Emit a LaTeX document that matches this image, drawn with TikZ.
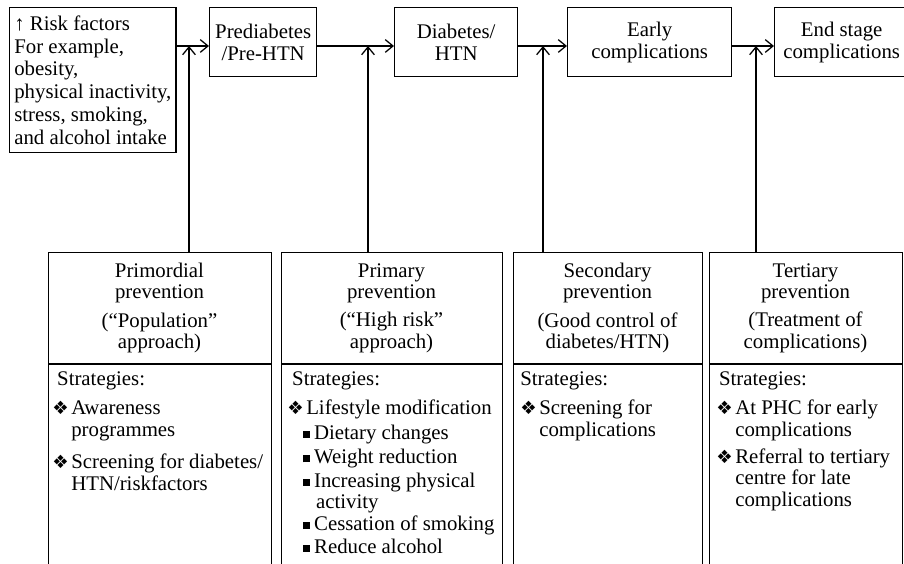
\documentclass[tikz,border=0pt]{standalone}
\usepackage{fontspec}
\setmainfont{Liberation Serif}
\newfontfamily\dingfont{DejaVu Sans}
\usetikzlibrary{arrows.meta}

\newcommand\dia{\makebox[13.5pt][l]{\dingfont\fontsize{13}{13}\selectfont ❖}}
\newcommand\sqr{\hspace*{11.3pt}\makebox[7.8pt][l]{\rule[1pt]{5pt}{5pt}}}
\newcommand\hang{\hspace*{13.5pt}}

\tikzset{
  stage/.style={draw, line width=0.9pt, align=center, anchor=north west, minimum height=1.725cm},
  prevbox/.style={draw, line width=0.9pt, anchor=north west, minimum height=8.2cm},
  heading/.style={align=center, font=\fontsize{14.8}{15.2}\selectfont},
  strat/.style={align=left, anchor=north west, inner sep=0pt},
  flow/.style={line width=0.9pt, -{Straight Barb[length=5.5pt,width=9pt]}}
}

\begin{document}
\begin{tikzpicture}[x=0.025cm, y=-0.025cm, font=\fontsize{14.8}{15.5}\selectfont]
  \useasboundingbox (0,0) rectangle (904,564);
  \clip (0,0) rectangle (904,564);

  % The stages
  \node[stage, align=left, minimum width=4.075cm, minimum height=3.625cm,
        font=\fontsize{14.8}{16.2}\selectfont] (risk) at (9,7)
    {↑ Risk factors\\For example,\\obesity,\\physical inactivity,\\stress, smoking,\\and alcohol intake};
  \node[stage, minimum width=2.675cm] (pre) at (209,7) {Prediabetes\\/Pre-HTN};
  \node[stage, minimum width=3.075cm] (dm) at (394,7) {Diabetes/\\HTN};
  \node[stage, minimum width=4.1cm] (early) at (567,7) {Early\\complications};
  \node[stage, minimum width=3.35cm] (late) at (774,7) {End stage\\complications};

  % Where the preventions come in
  \coordinate (j1) at (189,46);
  \coordinate (j2) at (368,46);
  \coordinate (j3) at (543,46);
  \coordinate (j4) at (756,46);

  \draw[flow] (risk.east |- j1) -- (pre.west |- j1);
  \draw[flow] (pre.east |- j1) -- (dm.west |- j1);
  \draw[flow] (dm.east |- j1) -- (early.west |- j1);
  \draw[flow] (early.east |- j1) -- (late.west |- j1);

  % The prevention boxes
  \node[prevbox, minimum width=5.575cm] (prim) at (48,252) {};
  \node[prevbox, minimum width=5.525cm] (primary) at (281,252) {};
  \node[prevbox, minimum width=4.725cm] (second) at (513,252) {};
  \node[prevbox, minimum width=4.825cm] (tert) at (709,252) {};
  \foreach \b in {prim,primary,second,tert}
    \draw[line width=0.9pt] (\b.west |- 0,364) -- (\b.east |- 0,364);

  \draw[flow] (prim.north -| j1) -- (j1);
  \draw[flow] (primary.north -| j2) -- (j2);
  \draw[flow] (second.north -| j3) -- (j3);
  \draw[flow] (tert.north -| j4) -- (j4);

  % Headings
  \node[heading] (primhd) at (159.5,308) {Primordial\\prevention\\[5pt](“Population”\\approach)};
  \node[heading] (primaryhd) at (391.5,308) {Primary\\prevention\\[5pt](“High risk”\\approach)};
  \node[heading] (secondhd) at (607.5,308) {Secondary\\prevention\\[5pt](Good control of\\diabetes/HTN)};
  \node[heading] (terthd) at (805.5,308) {Tertiary\\prevention\\[5pt](Treatment of\\complications)};

  % Strategies
  \node[strat] (primst) at (52,371) {\hspace*{3.5pt}Strategies:\\[5.5pt]
    \dia Awareness\\
    \hang programmes\\[7.5pt]
    \dia Screening for diabetes/\\
    \hang HTN/riskfactors};
  \node[strat] (primaryst) at (287,371) {\hspace*{3.5pt}Strategies:\\[5.5pt]
    \dia Lifestyle modification\\[2pt]
    \sqr Dietary changes\\[2pt]
    \sqr Weight reduction\\[1pt]
    \sqr Increasing physical\\[-0.5pt]
    \hspace*{20.5pt}activity\\[0.5pt]
    \sqr Cessation of smoking\\[0.5pt]
    \sqr Reduce alcohol};
  \node[strat] (secondst) at (520,371) {Strategies:\\[5.5pt]
    \dia Screening for\\
    \hang complications};
  \node[strat] (tertst) at (716,371) {\hspace*{2pt}Strategies:\\[5.5pt]
    \dia At PHC for early\\
    \hang complications\\[3.5pt]
    \dia Referral to tertiary\\
    \hang centre for late\\
    \hang complications};
\end{tikzpicture}
\end{document}
